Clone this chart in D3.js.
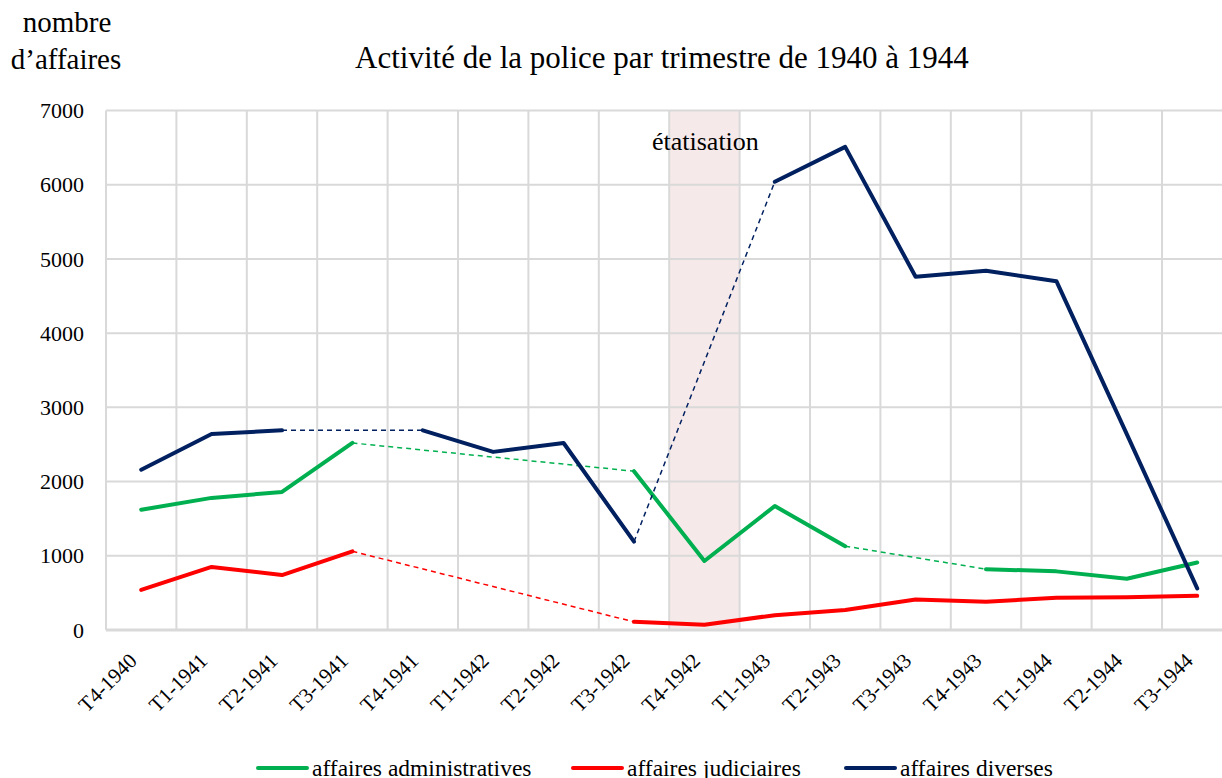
<!DOCTYPE html>
<html>
<head>
<meta charset="utf-8">
<script src="https://d3js.org/d3.v7.min.js"></script>
<style>
  body { margin: 0; background: #fff; }
  svg text { font-family: "Liberation Serif", "Times New Roman", "DejaVu Serif", serif; fill: #000; }
  .grid line { stroke: #d9d9d9; stroke-width: 2; }
  .ylab { font-size: 22px; }
  .xlab { font-size: 21px; }
</style>
</head>
<body>
<svg id="chart" width="1222" height="778"></svg>
<script>
  // quarters (T = trimestre)
  var quarters = ['T4-1940', 'T1-1941', 'T2-1941', 'T3-1941', 'T4-1941', 'T1-1942',
                  'T2-1942', 'T3-1942', 'T4-1942', 'T1-1943', 'T2-1943', 'T3-1943',
                  'T4-1943', 'T1-1944', 'T2-1944', 'T3-1944'];
  // null = no data that quarter (bridged with a thin dashed line)
  var administratives = [1620, 1780, 1860, 2520, null, null, null, 2140, 930, 1670, 1130, null, 820, 790, 690, 910];
  var judiciaires = [540, 850, 740, 1060, null, null, null, 110, 70, 200, 270, 410, 380, 435, 440, 460];
  var diverses = [2160, 2640, 2690, null, 2690, 2400, 2520, 1190, null, 6040, 6510, 4760, 4840, 4700, 2640, 560];
  var yTicks = [0, 1000, 2000, 3000, 4000, 5000, 6000, 7000];
  var shadedQuarter = 'T4-1942';

  var series = [
    { name: 'affaires administratives', values: administratives, color: '#00b050' },
    { name: 'affaires judiciaires', values: judiciaires, color: '#ff0000' },
    { name: 'affaires diverses', values: diverses, color: '#002060' }
  ];

  var svg = d3.select('#chart');
  var plotLeft = 106, plotTop = 110.5, plotBottom = 630, step = 70.4;

  var x = d3.scaleBand()
    .domain(quarters)
    .range([plotLeft, plotLeft + step * quarters.length]);
  var y = d3.scaleLinear()
    .domain([0, 7000])
    .range([plotBottom, plotTop]);
  var cx = function(q) { return x(q) + x.bandwidth() / 2; };

  // shaded band
  svg.append('rect')
    .attr('x', x(shadedQuarter))
    .attr('y', y(7000))
    .attr('width', x.bandwidth())
    .attr('height', y(0) - y(7000))
    .attr('fill', '#f6e9e9');

  // grid
  var grid = svg.append('g').attr('class', 'grid');
  grid.selectAll('line.h')
      .data(yTicks)
    .enter().append('line')
      .attr('x1', plotLeft).attr('x2', 1222)
      .attr('y1', function(d) { return y(d); })
      .attr('y2', function(d) { return y(d); });
  grid.selectAll('line.v')
      .data(quarters)
    .enter().append('line')
      .attr('x1', function(d) { return x(d); })
      .attr('x2', function(d) { return x(d); })
      .attr('y1', y(7000)).attr('y2', y(0));
  grid.append('line')
    .attr('x1', plotLeft).attr('x2', 1222)
    .attr('y1', y(0)).attr('y2', y(0))
    .style('stroke-width', 3);

  // y labels
  svg.selectAll('text.ylab')
      .data(yTicks)
    .enter().append('text')
      .attr('class', 'ylab')
      .attr('x', 84)
      .attr('y', function(d) { return y(d); })
      .attr('dy', '0.35em')
      .attr('text-anchor', 'end')
      .text(function(d) { return d; });

  // x labels
  svg.selectAll('text.xlab')
      .data(quarters)
    .enter().append('text')
      .attr('class', 'xlab')
      .attr('text-anchor', 'end')
      .attr('transform', function(d) {
        return 'translate(' + (cx(d) - 3) + ',' + 662 + ') rotate(-45)';
      })
      .text(function(d) { return d; });

  // lines
  var solid = d3.line()
    .defined(function(d) { return d.v != null; })
    .x(function(d) { return cx(d.q); })
    .y(function(d) { return y(d.v); });

  series.forEach(function(s) {
    var pts = quarters.map(function(q, i) { return { q: q, v: s.values[i], i: i }; });
    var known = pts.filter(function(d) { return d.v != null; });
    // dashed bridges over missing quarters
    for (var k = 1; k < known.length; k++) {
      if (known[k].i - known[k - 1].i > 1) {
        svg.append('path')
          .attr('d', solid([known[k - 1], known[k]]))
          .attr('fill', 'none')
          .attr('stroke', s.color)
          .attr('stroke-width', 1.5)
          .attr('stroke-dasharray', '5,4');
      }
    }
    svg.append('path')
      .attr('d', solid(pts))
      .attr('fill', 'none')
      .attr('stroke', s.color)
      .attr('stroke-width', 4)
      .attr('stroke-linejoin', 'round')
      .attr('stroke-linecap', 'round');
  });

  // annotation
  svg.append('text')
    .attr('x', cx(shadedQuarter) + 1)
    .attr('y', 150)
    .attr('text-anchor', 'middle')
    .style('font-size', '26px')
    .text('étatisation');

  // title and y caption
  svg.append('text')
    .attr('x', 662)
    .attr('y', 68)
    .attr('text-anchor', 'middle')
    .style('font-size', '31px')
    .text('Activité de la police par trimestre de 1940 à 1944');
  svg.append('text')
    .attr('x', 67).attr('y', 32)
    .attr('text-anchor', 'middle')
    .style('font-size', '29px')
    .text('nombre');
  svg.append('text')
    .attr('x', 66).attr('y', 69)
    .attr('text-anchor', 'middle')
    .style('font-size', '29px')
    .text('d\u2019affaires');

  // legend
  var legendX = [258, 573, 846];
  var lg = svg.selectAll('g.legend')
      .data(series)
    .enter().append('g')
      .attr('transform', function(d, i) { return 'translate(' + legendX[i] + ',768)'; });
  lg.append('line')
    .attr('x1', 0).attr('x2', 49)
    .attr('stroke', function(d) { return d.color; })
    .attr('stroke-width', 4)
    .attr('stroke-linecap', 'round');
  lg.append('text')
    .attr('x', 54)
    .attr('dy', '0.35em')
    .style('font-size', '23.5px')
    .text(function(d) { return d.name; });
</script>
</body>
</html>
